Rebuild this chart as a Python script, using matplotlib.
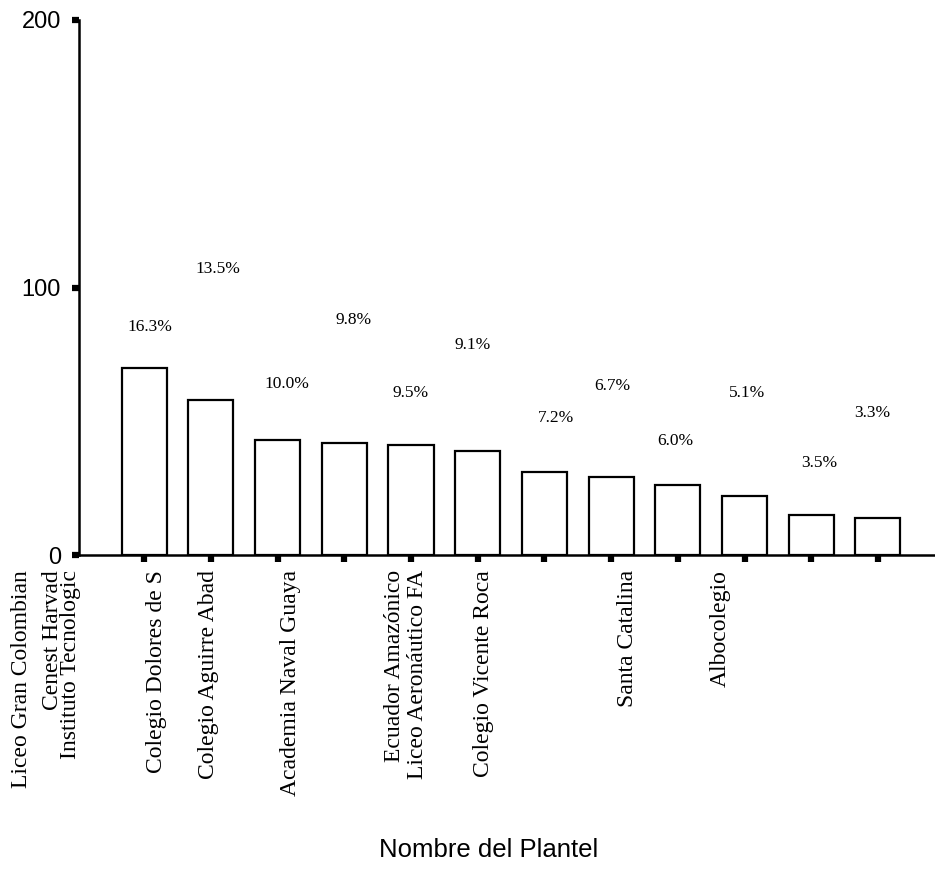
import matplotlib
matplotlib.use("Agg")
import matplotlib.pyplot as plt
import matplotlib.transforms as mtransforms
import numpy as np

# conteos por plantel (ordenados de mayor a menor)
counts = [70, 58, 43, 42, 41, 39, 31, 29, 26, 22, 15, 14]

# etiquetas del eje x tal como aparecen (11 textos para 12 barras)
school_labels = ["Liceo Gran Colombian", "Cenest Harvad", "Instituto Tecnologic",
                 "Colegio Dolores de S", "Colegio Aguirre Abad", "Academia Naval Guaya",
                 "Ecuador Amazónico", "Liceo Aeronáutico FA", "Colegio Vicente Roca",
                 "Santa Catalina", "Albocolegio"]

y_ticks = [0, 100, 200]

# posicion (en unidades de barra) de cada etiqueta del eje x
label_pos = [-1.84, -1.37, -1.11, 0.19, 0.96, 2.19, 3.76, 4.10, 5.08, 7.25, 8.63]
# desplazamiento de los porcentajes (puntos)
pct_dx = [4, 5, 7, 7, 0, -4, 8, 1, -2, 2, 6, -4]
pct_dy = [29, 94, 40, 88, 38, 76, 39, 66, 32, 74, 37, 75]

serif = "Liberation Serif"
sans = "Liberation Sans"

fig = plt.figure(figsize=(9.35, 8.77), dpi=100)
ax = fig.add_axes([79 / 935, 1 - 555 / 877, 1 - 79 / 935, 535 / 877])

x = np.arange(len(counts))
ax.bar(x, counts, width=0.675, color="white", edgecolor="black", linewidth=1.6)

total = sum(counts)
for i, c in enumerate(counts):
    ax.annotate("%.1f%%" % (100.0 * c / total), (x[i], c),
                xytext=(pct_dx[i], pct_dy[i]), textcoords="offset points",
                ha="center", va="center", fontsize=12.5, family=serif)

ax.set_xlim(-0.977, 11.855)
ax.set_ylim(0, 200)
ax.set_xticks(x)
ax.set_xticklabels([])
ax.set_yticks(y_ticks)
ax.set_yticklabels([str(v) for v in y_ticks], fontsize=17, family=sans)

for s in ["top", "right"]:
    ax.spines[s].set_visible(False)
for s in ["left", "bottom"]:
    ax.spines[s].set_linewidth(1.8)
ax.tick_params(axis="both", direction="out", length=5, width=4.5, pad=8)

trans = mtransforms.blended_transform_factory(ax.transData, ax.transAxes)
trans = mtransforms.offset_copy(trans, fig=fig, x=0, y=-10.8, units="points")
for pos, lab in zip(label_pos, school_labels):
    ax.text(pos, 0, lab, transform=trans, rotation=90, ha="center", va="top",
            fontsize=17, family=serif, clip_on=False)

ax.set_xlabel("Nombre del Plantel", fontsize=18.5, family=sans, va="center")
ax.xaxis.set_label_coords(0.478, -0.551)

fig.savefig("out.png", dpi=100)
